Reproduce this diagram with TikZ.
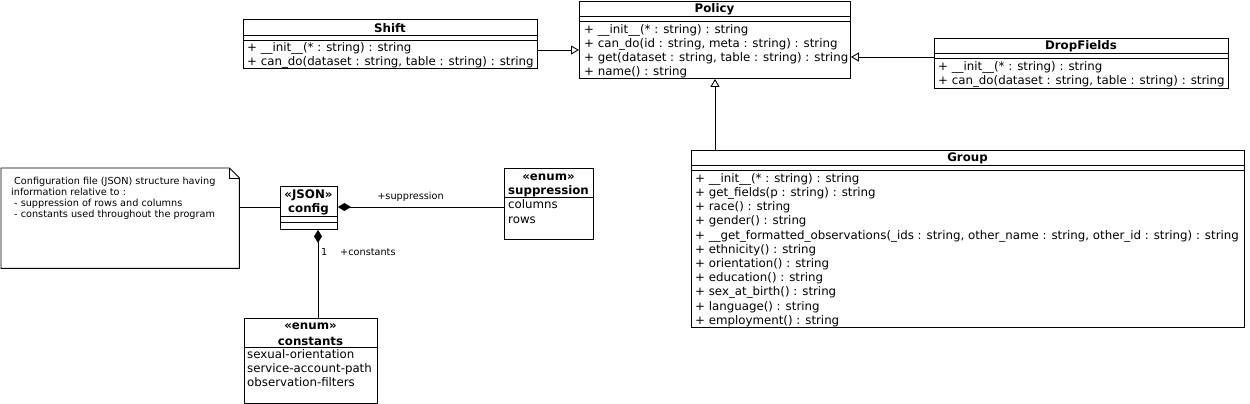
\documentclass[tikz,border=0pt]{standalone}
\usepackage{fontspec}
\setmainfont{DejaVu Sans}
\usetikzlibrary{arrows.meta}
\begin{document}
\begin{tikzpicture}[x=1pt,y=-1pt,
  box/.style={draw, line width=0.9pt, anchor=north west, inner sep=0pt, fill=white},
  mem/.style={anchor=mid west, inner sep=0pt, yshift=-1.6pt, font=\fontsize{11.8}{14}\selectfont},
  ttl/.style={anchor=center, inner sep=0pt, yshift=-1.2pt, font=\fontsize{11.8}{14}\selectfont\bfseries},
  lbl/.style={inner sep=0pt, yshift=-1.4pt, font=\fontsize{9.7}{11}\selectfont},
  sep/.style={line width=0.9pt},
  gen/.style={-{Triangle[open,length=8pt,width=9pt]}, line width=0.9pt},
  comp/.style={{Diamond[length=13pt,width=8pt]}-, line width=0.9pt}]
\useasboundingbox (0,0) rectangle (1250,404);

% Policy
\node[box, minimum width=271pt, minimum height=77pt] (policy) at (579,1) {};
\node[ttl] (policyT) at (714.5,8.5) {Policy};
\draw[sep] (579,16) -- (850,16);
\draw[sep] (579,21) -- (850,21);
\node[mem] (p1) at (584,29) {+ \_\_init\_\_(* : string) : string};
\node[mem] (p2) at (584,43) {+ can\_do(id : string, meta : string) : string};
\node[mem] (p3) at (584,57) {+ get(dataset : string, table : string) : string};
\node[mem] (p4) at (584,71) {+ name() : string};

% Shift
\node[box, minimum width=294pt, minimum height=49pt] (shift) at (243,19) {};
\node[ttl] (shiftT) at (390,26.5) {Shift};
\draw[sep] (243,35) -- (537,35);
\draw[sep] (243,40) -- (537,40);
\node[mem] (s1) at (247,47) {+ \_\_init\_\_(* : string) : string};
\node[mem] (s2) at (247,61) {+ can\_do(dataset : string, table : string) : string};

% DropFields
\node[box, minimum width=294pt, minimum height=50pt] (drop) at (934,38) {};
\node[ttl] (dropT) at (1081,45.5) {DropFields};
\draw[sep] (934,53) -- (1228,53);
\draw[sep] (934,58) -- (1228,58);
\node[mem] (d1) at (938,66) {+ \_\_init\_\_(* : string) : string};
\node[mem] (d2) at (938,80) {+ can\_do(dataset : string, table : string) : string};

% Group
\node[box, minimum width=553pt, minimum height=177pt] (group) at (691,150) {};
\node[ttl] (groupT) at (967.5,157.5) {Group};
\draw[sep] (691,165) -- (1244,165);
\draw[sep] (691,170) -- (1244,170);
\node[mem] (g1) at (695,178) {+ \_\_init\_\_(* : string) : string};
\node[mem] (g2) at (695,192.2) {+ get\_fields(p : string) : string};
\node[mem] (g3) at (695,206.4) {+ race() : string};
\node[mem] (g4) at (695,220.6) {+ gender() : string};
\node[mem] (g5) at (695,234.8) {+ \_\_get\_formatted\_observations(\_ids : string, other\_name : string, other\_id : string) : string};
\node[mem] (g6) at (695,249) {+ ethnicity() : string};
\node[mem] (g7) at (695,263.2) {+ orientation() : string};
\node[mem] (g8) at (695,277.4) {+ education() : string};
\node[mem] (g9) at (695,291.6) {+ sex\_at\_birth() : string};
\node[mem] (g10) at (695,305.8) {+ language() : string};
\node[mem] (g11) at (695,320) {+ employment() : string};

% Note
\node[inner sep=0pt, minimum width=238pt, minimum height=100pt, anchor=north west] (note) at (1,168) {};
\draw[line width=0.9pt] (note.north west) -- ([xshift=-10pt]note.north east) -- ([yshift=-10pt]note.north east) -- (note.south east) -- (note.south west) -- cycle;
\draw[line width=0.6pt] ([xshift=-10pt]note.north east) -- ([xshift=-10pt,yshift=-10pt]note.north east) -- ([yshift=-10pt]note.north east);
\node[lbl, anchor=mid west] (n1) at (14,180) {Configuration file (JSON) structure having};
\node[lbl, anchor=mid west] (n2) at (11,191) {information relative to :};
\node[lbl, anchor=mid west] (n3) at (14,202) {- suppression of rows and columns};
\node[lbl, anchor=mid west] (n4) at (14,213) {- constants used throughout the program};

% config
\node[box, minimum width=57pt, minimum height=43pt] (config) at (280,186) {};
\node[ttl] (configS) at (308.5,194.5) {«JSON»};
\node[ttl] (configT) at (308.5,208) {config};
\draw[sep] (280,216) -- (337,216);
\draw[sep] (280,222) -- (337,222);

% suppression
\node[box, minimum width=89pt, minimum height=71pt] (supp) at (504,168) {};
\node[ttl] (suppS) at (548.5,176.5) {«enum»};
\node[ttl] (suppT) at (548.5,190) {suppression};
\draw[sep] (504,197) -- (593,197);
\node[mem] (su1) at (508,204) {columns};
\node[mem] (su2) at (508,219) {rows};

% constants
\node[box, minimum width=133pt, minimum height=85pt] (const) at (244,318) {};
\node[ttl] (constS) at (310.5,325.5) {«enum»};
\node[ttl] (constT) at (310.5,340) {constants};
\draw[sep] (244,347) -- (377,347);
\node[mem] (c1) at (247,354) {sexual-orientation};
\node[mem] (c2) at (247,368) {service-account-path};
\node[mem] (c3) at (247,382) {observation-filters};

% connectors
\draw[gen] (shift.east |- 0,50) -- (policy.west |- 0,50);
\draw[gen] (drop.west |- 0,57) -- (policy.east |- 0,57);
\draw[gen] (group.north -| 715,0) -- (policy.south -| 715,0);
\draw[line width=0.9pt] (note.east |- 0,207) -- (config.west |- 0,207);
\draw[comp] (config.east |- 0,207) -- (supp.west |- 0,207);
\draw[comp] (config.south -| 318,0) -- (const.north -| 318,0);
\node[lbl] (lsupp) at (410.5,195) {+suppression};
\node[lbl, anchor=west] (lone) at (321,251) {1};
\node[lbl, anchor=west] (lconst) at (340,251) {+constants};
\end{tikzpicture}
\end{document}
